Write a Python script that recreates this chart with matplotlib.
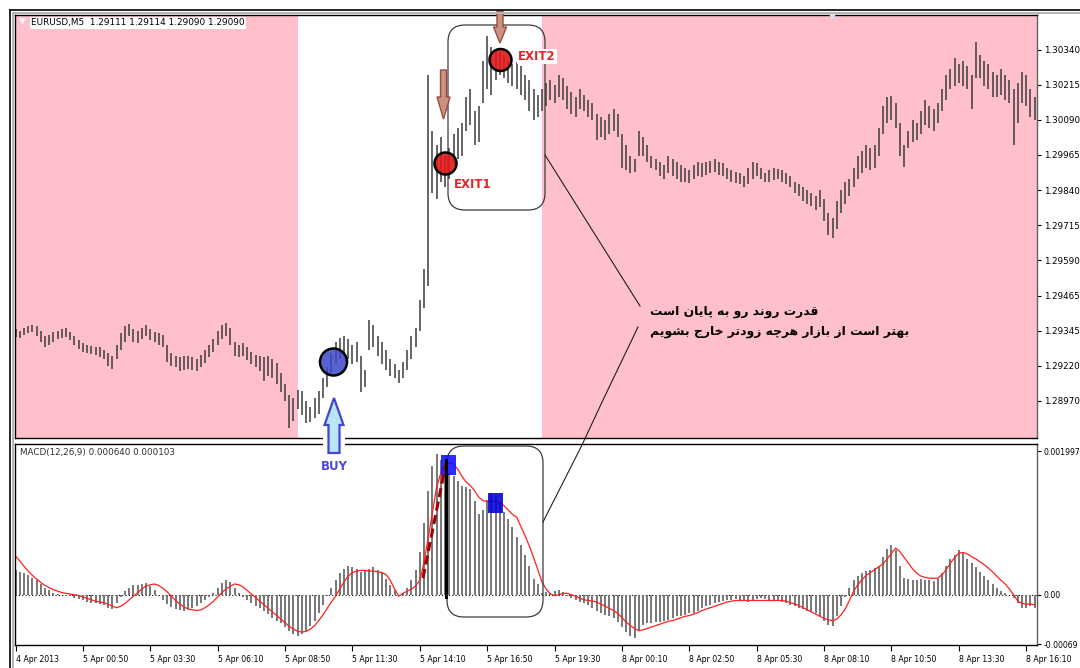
import numpy as np
import matplotlib
matplotlib.use("Agg")
import matplotlib.pyplot as plt
from matplotlib.transforms import Affine2D
from matplotlib.patches import Circle, Polygon, Rectangle, FancyBboxPatch
from matplotlib.lines import Line2D

plt.rcParams["font.family"] = ["DejaVu Sans"]

W, H = 1080, 668

# EURUSD M5, one entry per two bars; price offsets in points above 1.29000
high_pts = [345, 340, 350, 355, 360, 355, 340, 320,
            325, 335, 340, 345, 348, 335, 320, 305,
            295, 290, 285, 282, 280, 270, 260, 250,
            290, 330, 355, 365, 345, 340, 350, 360,
            345, 335, 330, 325, 290, 260, 250, 245,
            250, 248, 245, 240, 255, 270, 290, 310,
            340, 360, 366, 350, 300, 290, 295, 280,
            265, 255, 250, 245, 250, 240, 225, 190,
            150, 110, 100, 130, 125, 90, 70, 100,
            125, 170, 210, 260, 300, 315, 320, 310,
            290, 300, 250, 200, 377, 360, 320, 300,
            270, 240, 220, 200, 230, 270, 320, 350,
            450, 560, 1249, 1050, 1000, 1030, 960, 990,
            1040, 1060, 1080, 1170, 1200, 1120, 1140, 1300,
            1387, 1350, 1340, 1330, 1320, 1300, 1290, 1295,
            1280, 1250, 1230, 1200, 1180, 1200, 1220, 1230,
            1215, 1249, 1240, 1210, 1190, 1170, 1200, 1180,
            1160, 1150, 1110, 1100, 1090, 1110, 1130, 1110,
            1040, 1000, 960, 950, 1050, 1030, 1000, 960,
            950, 940, 930, 960, 950, 940, 930, 920,
            910, 930, 940, 935, 940, 945, 950, 940,
            935, 920, 910, 905, 900, 890, 920, 940,
            935, 920, 900, 910, 920, 915, 910, 900,
            890, 870, 860, 850, 840, 830, 820, 840,
            810, 760, 740, 800, 840, 870, 880, 920,
            960, 980, 1000, 990, 1000, 1060, 1140, 1170,
            1176, 1150, 1080, 1000, 1050, 1090, 1080, 1120,
            1160, 1140, 1130, 1150, 1200, 1250, 1270, 1310,
            1290, 1300, 1280, 1250, 1368, 1320, 1300, 1290,
            1260, 1250, 1270, 1250, 1230, 1200, 1220, 1260,
            1250, 1200, 1170]
low_pts = [318, 315, 325, 330, 335, 320, 300, 280,
           290, 300, 310, 315, 318, 305, 290, 275,
           265, 262, 258, 255, 245, 240, 215, 205,
           240, 270, 300, 320, 300, 295, 310, 320,
           305, 300, 290, 280, 230, 215, 210, 195,
           200, 205, 200, 195, 210, 225, 245, 265,
           290, 310, 320, 290, 250, 245, 250, 235,
           220, 210, 195, 160, 180, 170, 150, 120,
           90, -5, 20, 60, 40, 10, 15, 30,
           45, 100, 140, 190, 220, 240, 250, 240,
           220, 230, 123, 140, 270, 280, 250, 220,
           200, 180, 170, 152, 170, 200, 240, 280,
           340, 420, 500, 830, 810, 870, 850, 880,
           930, 950, 960, 1050, 1070, 1000, 1010, 1150,
           1200, 1180, 1230, 1250, 1240, 1220, 1210, 1200,
           1180, 1160, 1120, 1090, 1100, 1120, 1140, 1160,
           1150, 1170, 1160, 1130, 1110, 1100, 1130, 1120,
           1100, 1090, 1020, 1030, 1020, 1040, 1050, 1030,
           920, 910, 900, 905, 960, 960, 940, 920,
           910, 890, 880, 900, 890, 880, 870, 870,
           865, 880, 890, 885, 895, 900, 905, 895,
           890, 880, 870, 865, 860, 850, 860, 880,
           890, 880, 870, 870, 875, 880, 870, 860,
           850, 830, 820, 800, 790, 785, 770, 780,
           730, 680, 668, 700, 760, 790, 820, 850,
           880, 900, 920, 910, 920, 960, 1040, 1080,
           1090, 1060, 960, 922, 990, 1010, 1020, 1040,
           1070, 1060, 1050, 1080, 1120, 1160, 1200, 1210,
           1220, 1210, 1200, 1130, 1240, 1240, 1210, 1200,
           1170, 1170, 1180, 1160, 1150, 1000, 1080, 1150,
           1140, 1100, 1090]

# MACD(12,26,9), units of 1e-5
macd_main = [34, 32, 30, 27, 24, 20, 15, 10,
             6, 3, 1, 0, -1, -2, -4, -6,
             -8, -10, -11, -12, -13, -14, -19, -20,
             -12, -3, 5, 10, 13, 14, 15, 16,
             12, 6, -2, -8, -13, -17, -20, -21,
             -22, -20, -18, -15, -12, -8, -3, 3,
             10, 16, 20, 18, 10, 3, -3, -8,
             -12, -15, -18, -22, -27, -32, -36, -40,
             -45, -50, -55, -58, -55, -50, -44, -36,
             -26, -14, -2, 10, 20, 30, 36, 40,
             38, 36, 32, 33, 36, 38, 35, 30,
             22, 14, 6, -2, 3, 10, 20, 35,
             60, 100, 145, 180, 196, 188, 178, 170,
             165, 158, 152, 150, 148, 130, 112, 118,
             132, 141, 138, 128, 115, 105, 95, 80,
             70, 55, 40, 22, 15, 3, 4, 3,
             5, 6, 4, -2, -5, -8, -10, -12,
             -14, -18, -22, -26, -28, -30, -32, -38,
             -45, -52, -58, -60, -50, -42, -40, -40,
             -38, -38, -36, -35, -33, -30, -30, -28,
             -26, -25, -22, -19, -16, -14, -12, -10,
             -9, -8, -7, -6, -7, -9, -10, -8,
             -6, -5, -6, -7, -8, -9, -10, -12,
             -14, -16, -18, -20, -22, -24, -26, -30,
             -36, -42, -44, -30, -15, -3, 10, 20,
             26, 30, 33, 35, 37, 40, 52, 64,
             70, 62, 40, 24, 22, 21, 20, 22,
             21, 20, 19, 22, 30, 40, 50, 56,
             62, 58, 50, 44, 38, 32, 26, 20,
             15, 9, 5, 2, 0, -5, -12, -18,
             -19, -16, -18]
macd_signal = [54, 47, 40, 33, 27, 22, 17, 13,
               10, 7, 5, 3, 2, 1, 0, -1,
               -3, -5, -7, -9, -10, -11, -13, -16,
               -18, -16, -12, -7, -2, 3, 8, 12,
               14, 15, 13, 9, 4, -2, -8, -13,
               -17, -20, -21, -22, -21, -18, -14, -9,
               -3, 3, 8, 12, 15, 14, 11, 6,
               1, -4, -9, -14, -19, -24, -29, -34,
               -39, -44, -48, -51, -52, -51, -48, -43,
               -36, -28, -19, -10, -2, 8, 18, 26,
               31, 33, 34, 34, 33, 33, 32, 31,
               28, 20, 8, -2, 2, 5, 8, 12,
               20, 45, 80, 115, 150, 170, 180, 184,
               182, 175, 165, 157, 152, 145, 136, 131,
               130, 130, 130, 129, 124, 118, 112, 108,
               95, 82, 68, 52, 35, 18, 8, 1,
               -1, 0, 2, 2, 0, -2, -5, -7,
               -8, -9, -10, -13, -16, -19, -22, -26,
               -32, -38, -43, -47, -50, -49, -47, -45,
               -43, -41, -39, -37, -36, -34, -32, -30,
               -29, -27, -25, -22, -20, -18, -16, -14,
               -12, -10, -9, -8, -8, -8, -8, -8,
               -8, -8, -8, -8, -8, -8, -8, -9,
               -11, -13, -15, -18, -21, -24, -27, -30,
               -33, -35, -36, -34, -28, -20, -8, 5,
               14, 21, 27, 31, 35, 39, 43, 50,
               58, 65, 60, 52, 44, 36, 30, 26,
               24, 23, 23, 23, 28, 35, 44, 52,
               58, 59, 57, 53, 50, 46, 42, 37,
               32, 26, 20, 15, 8, 0, -9, -12,
               -13, -13, -14]

time_labels = ["4 Apr 2013", "5 Apr 00:50", "5 Apr 03:30", "5 Apr 06:10",
               "5 Apr 08:50", "5 Apr 11:30", "5 Apr 14:10", "5 Apr 16:50",
               "5 Apr 19:30", "8 Apr 00:10", "8 Apr 02:50", "8 Apr 05:30",
               "8 Apr 08:10", "8 Apr 10:50", "8 Apr 13:30", "8 Apr 16:10"]
price_ticks = [1.30340, 1.30215, 1.30090, 1.29965, 1.29840, 1.29715,
               1.29590, 1.29465, 1.29340, 1.29215, 1.29090]
price_labels = ["1.30340", "1.30215", "1.30090", "1.29965", "1.29840", "1.29715",
                "1.29590", "1.29465", "1.29345", "1.29220", "1.28970"]
macd_ticks = [0.001997, 0.0, -0.00069]
macd_labels = ["0.001997", "0.00", "-0.00069"]
# non-highlighted sessions (in M5 bar index)
session_spans = [(-1, 134), (250, 490)]

text_fa = ["قدرت روند رو به پایان است",
           "بهتر است از بازار هرچه زودتر خارج بشویم"]

# ---- persian shaping (no arabic_reshaper here) ----
FORMS = {
    "\u0627": ("\uFE8D", "\uFE8E", None, None),
    "\u0628": ("\uFE8F", "\uFE90", "\uFE91", "\uFE92"),
    "\u062A": ("\uFE95", "\uFE96", "\uFE97", "\uFE98"),
    "\u062C": ("\uFE9D", "\uFE9E", "\uFE9F", "\uFEA0"),
    "\u062E": ("\uFEA5", "\uFEA6", "\uFEA7", "\uFEA8"),
    "\u062F": ("\uFEA9", "\uFEAA", None, None),
    "\u0631": ("\uFEAD", "\uFEAE", None, None),
    "\u0632": ("\uFEAF", "\uFEB0", None, None),
    "\u0633": ("\uFEB1", "\uFEB2", "\uFEB3", "\uFEB4"),
    "\u0634": ("\uFEB5", "\uFEB6", "\uFEB7", "\uFEB8"),
    "\u0642": ("\uFED5", "\uFED6", "\uFED7", "\uFED8"),
    "\u0645": ("\uFEE1", "\uFEE2", "\uFEE3", "\uFEE4"),
    "\u0646": ("\uFEE5", "\uFEE6", "\uFEE7", "\uFEE8"),
    "\u0647": ("\uFEE9", "\uFEEA", "\uFEEB", "\uFEEC"),
    "\u0648": ("\uFEED", "\uFEEE", None, None),
    "\u067E": ("\uFB56", "\uFB57", "\uFB58", "\uFB59"),
    "\u0686": ("\uFB7A", "\uFB7B", "\uFB7C", "\uFB7D"),
    "\u06CC": ("\uFBFC", "\uFBFD", "\uFBFE", "\uFBFF"),
}


def shape_fa(s):
    out = []
    for k, c in enumerate(s):
        if c not in FORMS:
            out.append(c)
            continue
        p = s[k - 1] if k > 0 else ""
        n = s[k + 1] if k + 1 < len(s) else ""
        jp = p in FORMS and FORMS[p][2] is not None
        jn = n in FORMS and FORMS[c][2] is not None
        iso, fin, ini, med = FORMS[c]
        if jp and jn:
            out.append(med)
        elif jp:
            out.append(fin)
        elif jn:
            out.append(ini)
        else:
            out.append(iso)
    return "".join(reversed(out))


x = 2 * np.arange(len(high_pts))
high = 1.29 + np.array(high_pts) * 1e-5
low = 1.29 + np.array(low_pts) * 1e-5
macd = np.array(macd_main) * 1e-5
sig = np.array(macd_signal) * 1e-5

fig = plt.figure(figsize=(W / 100, H / 100), dpi=100)
fig.patch.set_facecolor("white")
# pixel coords, y down
px = Affine2D().scale(1, -1).translate(0, H)

ax = fig.add_axes([15 / W, 1 - 438 / H, 1022 / W, 423 / H])
axm = fig.add_axes([15 / W, 1 - 645 / H, 1022 / W, 201 / H])

for a, b in session_spans:
    ax.axvspan(a, b, color="#ffc0cb", lw=0, zorder=0)
ax.vlines(x, low, high, color="#3c3c3c", lw=1.1)
ax.set_xlim(-0.25, 485.1)
ax.set_ylim(1.28958, 1.30463)
ax.set_xticks([])
ax.yaxis.tick_right()
ax.set_yticks(price_ticks, price_labels)
ax.tick_params(axis="y", labelsize=6.3, length=3, width=0.8, pad=2)

axm.axhline(0, color="black", lw=0.8, ls=(0, (1, 2)))
axm.vlines(x, 0, macd, color="#6c6c6c", lw=1.3)
axm.plot(x, sig, color="#ff2020", lw=0.9)
axm.set_xlim(-0.25, 485.1)
axm.set_ylim(-0.00070, 0.00210)
axm.yaxis.tick_right()
axm.set_yticks(macd_ticks, macd_labels)
axm.tick_params(axis="y", labelsize=5.6, length=3, width=0.8, pad=1.5)
axm.set_xticks(32 * np.arange(len(time_labels)), time_labels)
axm.tick_params(axis="x", labelsize=5.6, length=4, width=0.8, pad=3)
for lab in axm.get_xticklabels():
    lab.set_ha("left")

for a in (ax, axm):
    for s in a.spines.values():
        s.set_color("black")
        s.set_linewidth(1.0)
    a.spines["right"].set_color("#606060")

fig.text(31, 23, "EURUSD,M5  1.29111 1.29114 1.29090 1.29090", transform=px,
         fontsize=6.4, va="center", ha="left",
         bbox=dict(fc="white", ec="none", pad=0.8))
fig.text(20, 452, "MACD(12,26,9) 0.000640 0.000103", transform=px,
         fontsize=6.3, va="center", ha="left", color="#303030")
fig.add_artist(Line2D([22], [21], transform=px, marker="v", ms=4,
                      color="white", mec="#e6e6e6", ls="none"))
fig.add_artist(Line2D([832], [16], transform=px, marker="v", ms=5,
                      color="#cfe0f0", ls="none"))

# outer frame
fig.add_artist(Line2D([10, 10], [10, H], transform=px, color="black", lw=1.2))
fig.add_artist(Line2D([10, W], [10, 10], transform=px, color="black", lw=1.2))
fig.add_artist(Line2D([12.5, 12.5], [12.5, H], transform=px, color="#b4b4b4", lw=1.4))
fig.add_artist(Line2D([12.5, W], [12.5, 12.5], transform=px, color="#b4b4b4", lw=1.4))

# rounded boxes and callout lines
for (bx, by, bw, bh) in [(448, 25, 97, 185), (447, 446, 96, 171)]:
    fig.add_artist(FancyBboxPatch((bx, by), bw, bh, transform=px,
                                  boxstyle="round,pad=0,rounding_size=17",
                                  fc="none", ec="#3c3c3c", lw=0.9))
fig.add_artist(Line2D([545, 640], [155, 306], transform=px, color="#202020", lw=0.8))
fig.add_artist(Line2D([638, 603, 582, 543], [327, 400, 445, 522], transform=px,
                      color="#202020", lw=0.8))

# macd marks
fig.add_artist(Line2D([423, 446], [578, 463], transform=px, color="#a00000",
                      lw=2.2, dashes=(3, 1.5)))
fig.add_artist(Line2D([446, 446], [460, 597], transform=px, color="black", lw=2.2))
fig.add_artist(Rectangle((441, 455), 15, 20, transform=px, fc=(0.05, 0.05, 1.0, 0.88), ec="none"))
fig.add_artist(Rectangle((488, 493), 15, 20, transform=px, fc=(0.0, 0.0, 0.85, 0.88), ec="none"))

# entry / exits
fig.add_artist(Circle((333.5, 362), 13.5, transform=px, fc=(0.24, 0.28, 0.79, 0.85),
                      ec="black", lw=1.8))
fig.add_artist(Circle((445.5, 163.5), 11, transform=px, fc=(0.88, 0.1, 0.1, 0.9),
                      ec="black", lw=1.8))
fig.add_artist(Circle((500.5, 60), 11, transform=px, fc=(0.88, 0.1, 0.1, 0.9),
                      ec="black", lw=1.8))

fig.add_artist(Rectangle((323, 435), 22, 12, transform=px, fc="white", ec="none"))
fig.add_artist(Polygon([(334, 398), (343.5, 425), (339.5, 425), (339.5, 453),
                        (328.5, 453), (328.5, 425), (324.5, 425)], closed=True,
                       transform=px, fc="#b8e6f5", ec="#4444d4", lw=1.6))
fig.text(334, 467, "BUY", transform=px, fontsize=8.5, fontweight="bold",
         color="#4a4ad8", ha="center", va="center")

for cx, y0, y1, y2 in [(443.5, 70, 97, 119), (500, 11, 27, 43)]:
    fig.add_artist(Polygon([(cx - 3, y0), (cx + 3, y0), (cx + 3, y1), (cx + 6.5, y1),
                            (cx, y2), (cx - 6.5, y1), (cx - 3, y1)], closed=True,
                           transform=px, fc="#c8937f", ec="#9c4a40", lw=1.0))

fig.text(454, 184, "EXIT1", transform=px, fontsize=8.5, fontweight="bold",
         color="#e8232b", ha="left", va="center")
fig.text(518, 56.5, "EXIT2", transform=px, fontsize=8.5, fontweight="bold",
         color="#e8232b", ha="left", va="center",
         bbox=dict(fc="white", ec="none", pad=0.8))

fig.text(650, 312, shape_fa(text_fa[0]), transform=px, fontsize=8.9,
         fontweight="bold", ha="left", va="center")
fig.text(650, 331, shape_fa(text_fa[1]), transform=px, fontsize=8.9,
         fontweight="bold", ha="left", va="center")

fig.savefig("out.png", dpi=100)
